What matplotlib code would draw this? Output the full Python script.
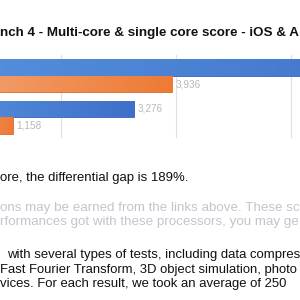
import numpy as np
import matplotlib
matplotlib.use("Agg")
import matplotlib.pyplot as plt
from matplotlib.colors import LinearSegmentedColormap

plt.rcParams['font.family'] = ['Liberation Sans', 'DejaVu Sans']

categories = ["Device A", "Device B"]
multi_core = [9468, 3276]
single_core = [3936, 1158]
labels_multi = ["9,468", "3,276"]
labels_single = ["3,936", "1,158"]

title_text = "nch 4 - Multi-core & single core score - iOS & A"
body_lines = [
    "ore, the differential gap is 189%.",
    "ons may be earned from the links above. These sc",
    "rformances got with these processors, you may ge",
    "with several types of tests, including data compres",
    "Fast Fourier Transform, 3D object simulation, photo",
    "vices. For each result, we took an average of 250",
]
body_colors = ["#111111", "#c4c4ce", "#c4c4ce", "#111111", "#111111", "#111111"]
body_sizes = [9.45, 9.6, 9.6, 9.45, 9.4, 9.45]
body_x = [0, 0.5, 0.5, 7, 0.5, 0]
body_baseline = [181.5, 210.5, 225, 258, 272.7, 287.3]

W = H = 300
fig = plt.figure(figsize=(3, 3), dpi=100)
fig.patch.set_facecolor("white")

# axes geometry in pixels
px_per_unit = 115 / 2000.0
x0_px = -54
xmax = 10000
ax_left = x0_px / W
ax_width = xmax * px_per_unit / W
ax_top_px, ax_bot_px = 55, 138
ax = fig.add_axes([ax_left, 1 - ax_bot_px / H, ax_width, (ax_bot_px - ax_top_px) / H])
ax.set_xlim(0, xmax)
ax.set_ylim(1.5, -0.5)
for s in ax.spines.values():
    s.set_visible(False)
ax.set_xticks([2000, 4000, 6000, 8000, 10000])
ax.set_yticks([])
ax.tick_params(length=0, labelbottom=False)
ax.grid(axis='x', color='#e0e0e0', linewidth=0.8)
ax.set_axisbelow(True)

y = np.arange(len(categories))
h = 0.40
blue_cmap = LinearSegmentedColormap.from_list("b", ["#5590dc", "#3f6fc9"])
orange_cmap = LinearSegmentedColormap.from_list("o", ["#f3a472", "#ee7a35"])

bars_b = ax.barh(y - h / 2, multi_core, height=h, color="#4a80d6", edgecolor="#3a62b8", linewidth=0.6, zorder=2)
bars_o = ax.barh(y + h / 2, single_core, height=h, color="#ef8040", edgecolor="#d86a2c", linewidth=0.6, zorder=2)

grad = np.linspace(0, 1, 256).reshape(1, -1)
for bars, cmap in ((bars_b, blue_cmap), (bars_o, orange_cmap)):
    for b in bars:
        x, yb = b.get_x(), b.get_y()
        w, hh = b.get_width(), b.get_height()
        im = ax.imshow(grad, cmap=cmap, aspect='auto', extent=(x, x + w, yb + hh, yb), zorder=2.5)
        im.set_clip_path(b)

visible_max = (W - x0_px - 40) / px_per_unit
for bars, labs in ((bars_b, labels_multi), (bars_o, labels_single)):
    for b, lab in zip(bars, labs):
        if b.get_width() > visible_max:
            continue  # label lies beyond the visible crop
        ax.text(b.get_width() + 60, b.get_y() + b.get_height() / 2, lab, va='center', ha='left',
                fontsize=7.2, color='#b8b8b8')
ax.set_xlim(0, xmax)
ax.set_ylim(1.5, -0.5)

fig.text(0.0, 1 - 35.7 / H, title_text, fontsize=9.6, fontweight='bold', color='#111111',
         va='baseline', ha='left')
for txt, col, fs, xo, yy in zip(body_lines, body_colors, body_sizes, body_x, body_baseline):
    fig.text(xo / W, 1 - yy / H, txt, fontsize=fs, color=col, va='baseline', ha='left')

fig.savefig("out.png", dpi=100, facecolor="white")
